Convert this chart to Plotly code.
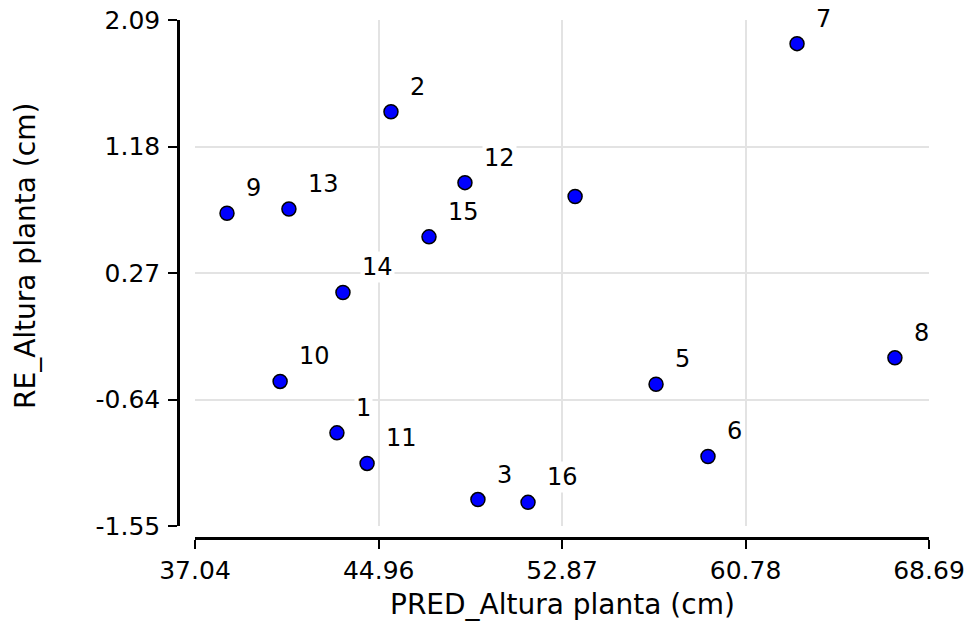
import plotly.graph_objects as go

# Observation ids, predicted values and residuals
obs_id = [1, 2, 3, 4, 5, 6, 7, 8, 9, 10, 11, 12, 13, 14, 15, 16]
pred = [43.16, 45.49, 49.24, 53.43, 56.92, 59.16, 63.00, 67.22,
        38.42, 40.71, 44.46, 48.68, 41.09, 43.42, 47.13, 51.40]
resid = [-0.88, 1.43, -1.36, 0.82, -0.53, -1.05, 1.92, -0.34,
         0.70, -0.51, -1.10, 0.92, 0.73, 0.13, 0.53, -1.38]
# point labels (id 4 is drawn without its label)
point_labels = ["1", "2", "3", "", "5", "6", "7", "8",
                "9", "10", "11", "12", "13", "14", "15", "16"]

x_ticks = [37.04, 44.96, 52.87, 60.78, 68.69]
y_ticks = [-1.55, -0.64, 0.27, 1.18, 2.09]

W, H = 980, 625
font_family = "DejaVu Sans, Arial, sans-serif"

fig = go.Figure()
fig.add_trace(go.Scatter(
    x=pred, y=resid, mode="markers",
    marker=dict(size=14, color="#0000ff", line=dict(color="black", width=1.5)),
    hoverinfo="x+y",
    showlegend=False,
))

annotations = []
for xv, yv, lab in zip(pred, resid, point_labels):
    if not lab:
        continue
    annotations.append(dict(
        x=xv, y=yv, xref="x", yref="y", text=lab, showarrow=False,
        xanchor="left", yanchor="middle", xshift=17, yshift=25,
        bgcolor="white", borderpad=1,
        font=dict(size=24, color="black", family=font_family),
    ))

# axis titles
annotations.append(dict(
    x=562 / W, y=1 - 604 / H, xref="paper", yref="paper",
    text="PRED_Altura planta (cm)", showarrow=False,
    xanchor="center", yanchor="middle",
    font=dict(size=28, color="black", family=font_family),
))
annotations.append(dict(
    x=26 / W, y=1 - 256 / H, xref="paper", yref="paper",
    text="RE_Altura planta (cm)", showarrow=False, textangle=-90,
    xanchor="center", yanchor="middle",
    font=dict(size=28, color="black", family=font_family),
))

fig.update_layout(
    width=W, height=H,
    margin=dict(l=0, r=0, t=0, b=0),
    paper_bgcolor="white", plot_bgcolor="white",
    font=dict(family=font_family, size=25, color="black"),
    annotations=annotations,
    xaxis=dict(
        domain=[195 / W, 929 / W],
        range=[x_ticks[0], x_ticks[-1]],
        tickvals=x_ticks, ticktext=[f"{v:.2f}" for v in x_ticks],
        anchor="free", position=1 - 538 / H,
        showline=True, linecolor="black", linewidth=2.5,
        ticks="outside", ticklen=9, tickwidth=2, tickcolor="black",
        showgrid=True, gridcolor="#e3e3e3", gridwidth=2,
        zeroline=False, automargin=False,
        tickfont=dict(size=25, color="black"),
    ),
    yaxis=dict(
        domain=[1 - 526 / H, 1 - 20 / H],
        range=[y_ticks[0], y_ticks[-1]],
        tickvals=y_ticks, ticktext=[f"{v:.2f}" for v in y_ticks],
        anchor="free", position=178 / W,
        showline=True, linecolor="black", linewidth=2.5,
        ticks="outside", ticklen=9, tickwidth=2, tickcolor="black",
        showgrid=True, gridcolor="#e3e3e3", gridwidth=2,
        zeroline=False, automargin=False, ticklabelstandoff=3,
        tickfont=dict(size=25, color="black"),
    ),
)

fig.write_html("out.html")
